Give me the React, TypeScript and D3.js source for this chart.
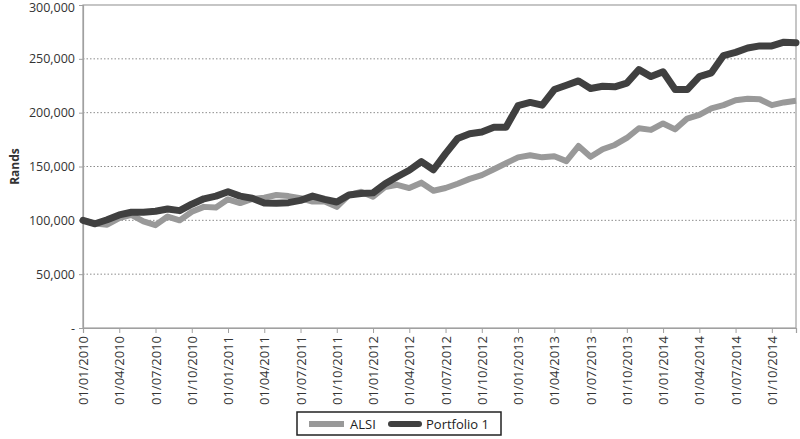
import * as d3 from 'd3';
import { useRef, useEffect } from 'react';

const months = [
  '01/01/2010', '01/02/2010', '01/03/2010', '01/04/2010', '01/05/2010', '01/06/2010',
  '01/07/2010', '01/08/2010', '01/09/2010', '01/10/2010', '01/11/2010', '01/12/2010',
  '01/01/2011', '01/02/2011', '01/03/2011', '01/04/2011', '01/05/2011', '01/06/2011',
  '01/07/2011', '01/08/2011', '01/09/2011', '01/10/2011', '01/11/2011', '01/12/2011',
  '01/01/2012', '01/02/2012', '01/03/2012', '01/04/2012', '01/05/2012', '01/06/2012',
  '01/07/2012', '01/08/2012', '01/09/2012', '01/10/2012', '01/11/2012', '01/12/2012',
  '01/01/2013', '01/02/2013', '01/03/2013', '01/04/2013', '01/05/2013', '01/06/2013',
  '01/07/2013', '01/08/2013', '01/09/2013', '01/10/2013', '01/11/2013', '01/12/2013',
  '01/01/2014', '01/02/2014', '01/03/2014', '01/04/2014', '01/05/2014', '01/06/2014',
  '01/07/2014', '01/08/2014', '01/09/2014', '01/10/2014', '01/11/2014', '01/12/2014',
];

const alsi = [
  100000, 97000, 96000, 102000, 105000, 99000, 95500, 103500, 100000, 108000, 112500, 112000,
  119500, 116000, 120000, 121000, 123500, 122500, 120500, 117500, 117500, 112500, 123500, 126500,
  122000, 131000, 133000, 130000, 135000, 127500, 130000, 134000, 138500, 142000, 147500, 153000,
  158500, 160500, 158500, 159500, 155000, 169000, 159000, 166000, 170000, 176500, 185500, 184000,
  190000, 184500, 194500, 198000, 204000, 207000, 211500, 213000, 212500, 207000, 209500, 211000,
];

const portfolio1 = [
  100000, 96800, 100500, 105000, 107500, 107500, 108500, 110500, 109000, 115000, 120000, 122500,
  126500, 122500, 120500, 116000, 115800, 116400, 118500, 122500, 119500, 117000, 123500, 125000,
  125500, 134000, 140500, 146500, 154500, 147000, 162000, 176000, 180500, 182000, 186500, 186500,
  206500, 209500, 207000, 221500, 225500, 229500, 222500, 224500, 224000, 227500, 240000, 233500,
  238000, 221500, 221500, 233500, 237000, 253000, 256000, 260000, 262000, 262000, 265500, 265000,
];

const yTicks = [0, 50000, 100000, 150000, 200000, 250000, 300000];

const seriesNames = ['ALSI', 'Portfolio 1'];

const App = () => {
  const svgRef = useRef<SVGSVGElement>(null);

  useEffect(() => {
    const svg = d3.select(svgRef.current);
    const width = 800;
    const height = 439;
    const margin = { top: 5, right: 4, bottom: 111, left: 83 };
    const font = '"Open Sans", sans-serif';

    svg.selectAll('*').remove();

    const x = d3.scalePoint<string>()
      .domain(months)
      .range([margin.left, width - margin.right]);

    const y = d3.scaleLinear()
      .domain([0, 300000])
      .range([height - margin.bottom, margin.top]);

    // gridlines
    svg.append('g')
      .selectAll('line')
      .data(yTicks.filter(d => d > 0 && d < 300000))
      .enter().append('line')
      .attr('x1', margin.left)
      .attr('x2', width - margin.right)
      .attr('y1', d => y(d))
      .attr('y2', d => y(d))
      .attr('stroke', '#8c8c8c')
      .attr('stroke-width', 1)
      .attr('stroke-dasharray', '1.5,2');

    // plot area border
    svg.append('rect')
      .attr('x', margin.left)
      .attr('y', margin.top)
      .attr('width', width - margin.right - margin.left)
      .attr('height', height - margin.bottom - margin.top)
      .attr('fill', 'none')
      .attr('stroke', '#a0a0a0')
      .attr('stroke-width', 1.2);

    // y axis
    const yAxisG = svg.append('g')
      .attr('transform', `translate(${margin.left},0)`)
      .call(d3.axisLeft(y).tickValues(yTicks).tickSize(4).tickPadding(4)
        .tickFormat(d => (+d === 0 ? '-' : d3.format(',')(+d))));
    yAxisG.select('.domain').attr('stroke', '#a0a0a0').attr('stroke-width', 1.2);
    yAxisG.selectAll('line').attr('stroke', '#a0a0a0');
    yAxisG.selectAll('text')
      .style('font-family', font)
      .style('font-size', '12.5px')
      .attr('fill', '#333');
    // keep the top label inside the picture
    yAxisG.selectAll('text').filter(d => +d === 300000).attr('dy', '0.5em');

    // x axis
    const xAxisG = svg.append('g')
      .attr('transform', `translate(0,${height - margin.bottom})`)
      .call(d3.axisBottom(x).tickValues(months.filter((d, i) => i % 3 === 0)).tickSize(5));
    xAxisG.select('.domain').attr('stroke', '#a0a0a0').attr('stroke-width', 1.2);
    xAxisG.selectAll('line').attr('stroke', '#a0a0a0');
    xAxisG.selectAll('text')
      .attr('transform', 'rotate(-90)')
      .attr('x', -8)
      .attr('y', 0)
      .attr('dy', '0.35em')
      .style('text-anchor', 'end')
      .style('font-family', font)
      .style('font-size', '13px')
      .attr('fill', '#333');

    // y axis title
    svg.append('text')
      .attr('x', -(margin.top + (height - margin.bottom)) / 2)
      .attr('y', 19)
      .attr('text-anchor', 'middle')
      .attr('transform', 'rotate(-90)')
      .style('font-family', font)
      .style('font-size', '12px')
      .style('font-weight', 'bold')
      .attr('fill', '#333')
      .text('Rands');

    const line = d3.line<number>()
      .x((d, i) => x(months[i]) as number)
      .y(d => y(d));

    svg.append('path')
      .datum(alsi)
      .attr('d', line)
      .attr('fill', 'none')
      .attr('stroke', '#999999')
      .attr('stroke-width', 6)
      .attr('stroke-linejoin', 'round');

    svg.append('path')
      .datum(portfolio1)
      .attr('d', line)
      .attr('fill', 'none')
      .attr('stroke', '#404040')
      .attr('stroke-width', 7)
      .attr('stroke-linejoin', 'round')
      .attr('stroke-linecap', 'round');

    // legend
    const legend = svg.append('g').attr('transform', 'translate(297,412)');
    legend.append('rect')
      .attr('x', 0)
      .attr('y', 0)
      .attr('width', 204)
      .attr('height', 23)
      .attr('fill', '#fff')
      .attr('stroke', '#222')
      .attr('stroke-width', 1.5);

    const items = [
      { name: seriesNames[0], color: '#999999', cap: 'butt', lx1: 12, lx2: 47, tx: 53 },
      { name: seriesNames[1], color: '#404040', cap: 'round', lx1: 94, lx2: 122, tx: 129 },
    ];
    items.forEach(it => {
      legend.append('line')
        .attr('x1', it.lx1)
        .attr('x2', it.lx2)
        .attr('y1', 12)
        .attr('y2', 12)
        .attr('stroke', it.color)
        .attr('stroke-width', 6)
        .attr('stroke-linecap', it.cap);
      legend.append('text')
        .attr('x', it.tx)
        .attr('y', 12)
        .attr('dy', '0.35em')
        .style('font-family', font)
        .style('font-size', '13px')
        .attr('fill', '#222')
        .text(it.name);
    });
  }, []);

  return (
    <div>
      <svg ref={svgRef} width={800} height={439} style={{ position: 'absolute', left: 0, top: 0, background: '#fff' }}></svg>
    </div>
  );
};

export default App;
